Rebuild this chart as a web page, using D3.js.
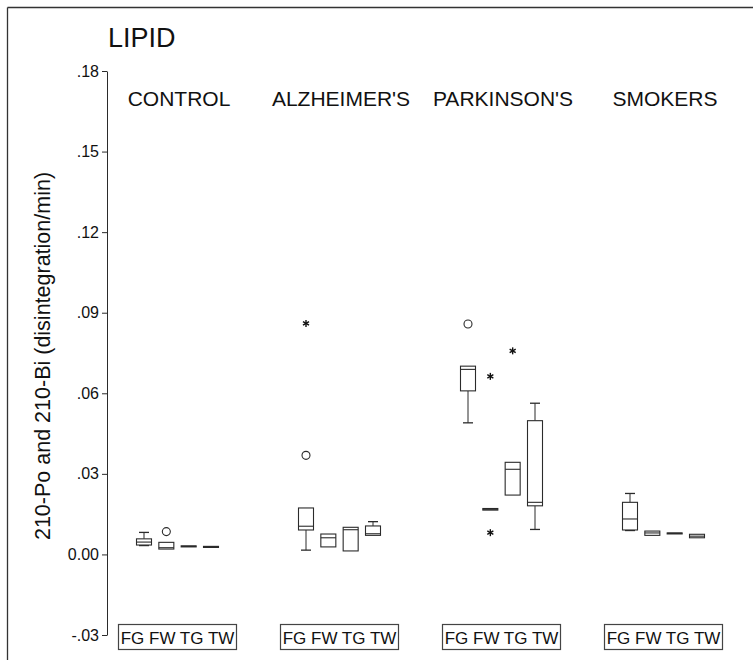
<!DOCTYPE html>
<html>
<head>
<meta charset="utf-8">
<script src="https://cdn.jsdelivr.net/npm/d3@7"></script>
<style>
  body{margin:0;background:#fff;}
  svg{display:block;font-family:"Liberation Sans",Arial,sans-serif;}
</style>
</head>
<body>
<svg id="chart" width="753" height="660"></svg>
<script>
// categories
var groups=["CONTROL","ALZHEIMER'S","PARKINSON'S","SMOKERS"];
var tissues=["FG","FW","TG","TW"];
var yTicks=[0.18,0.15,0.12,0.09,0.06,0.03,0,-0.03];
var yTickLabels=[".18",".15",".12",".09",".06",".03","0.00","-.03"];

// box stats per tissue: [low whisker, q1, median, q3, high whisker]
var controlBoxes=[
  [0.0033,0.0035,0.0046,0.0058,0.0082],
  [0.0020,0.0020,0.0025,0.0045,0.0045],
  [0.0028,0.0028,0.0030,0.0032,0.0032],
  [0.0026,0.0026,0.0028,0.0030,0.0030]
];
var alzheimerBoxes=[
  [0.0016,0.0091,0.0105,0.0173,0.0173],
  [0.0028,0.0028,0.0062,0.0076,0.0076],
  [0.0013,0.0013,0.0092,0.0101,0.0101],
  [0.0071,0.0071,0.0077,0.0106,0.0122]
];
var parkinsonBoxes=[
  [0.0490,0.0609,0.0689,0.0701,0.0701],
  [0.0165,0.0165,0.0168,0.0171,0.0171],
  [0.0221,0.0221,0.0317,0.0343,0.0343],
  [0.0093,0.0181,0.0194,0.0498,0.0563]
];
var smokerBoxes=[
  [0.0089,0.0091,0.0132,0.0194,0.0227],
  [0.0071,0.0071,0.0080,0.0087,0.0087],
  [0.0078,0.0078,0.0079,0.0080,0.0080],
  [0.0062,0.0062,0.0068,0.0075,0.0075]
];
var allBoxes=[controlBoxes,alzheimerBoxes,parkinsonBoxes,smokerBoxes];

// outliers: circle = outlier, star = extreme
var outlierGroup=["CONTROL","ALZHEIMER'S","ALZHEIMER'S","PARKINSON'S","PARKINSON'S","PARKINSON'S","PARKINSON'S"];
var outlierTissue=["FW","FG","FG","FG","FW","FW","TG"];
var outlierValue=[0.0085,0.0860,0.0369,0.0858,0.0663,0.0081,0.0758];
var outlierKind=["circle","star","circle","circle","star","star","star"];

var ink="#2b2b2b";
var svg=d3.select("#chart");

// frame (only top and left edges visible in the scan)
svg.append("line").attr("x1",7.5).attr("y1",7.5).attr("x2",753).attr("y2",7.5).attr("stroke","#333").attr("stroke-width",1.3);
svg.append("line").attr("x1",7.5).attr("y1",7.5).attr("x2",7.5).attr("y2",660).attr("stroke","#333").attr("stroke-width",1.3);

var y=d3.scaleLinear().domain([-0.03,0.18]).range([635,71]);
var xGroup=d3.scaleBand().domain(groups).range([96.5,744.5]).padding(0);
var xTissue=d3.scalePoint().domain(tissues).range([-33.5,33.5]);
var boxW=15,capW=10;

function cx(g,t){ return xGroup(g)+xGroup.bandwidth()/2+xTissue(t); }

// y axis
var yAxis=d3.axisLeft(y)
  .tickValues(yTicks)
  .tickSize(5)
  .tickSizeOuter(0)
  .tickPadding(3)
  .tickFormat(function(d,i){ return yTickLabels[i]; });
var ax=svg.append("g").attr("transform","translate(107,0)").call(yAxis);
ax.select(".domain").attr("stroke",ink).attr("stroke-width",1);
ax.selectAll(".tick line").attr("stroke",ink);
ax.selectAll(".tick text").attr("font-size",16).attr("fill","#111").attr("font-family","'Liberation Sans',Arial,sans-serif");

// axis title
svg.append("text")
  .attr("transform","translate(50,356) rotate(-90)")
  .attr("text-anchor","middle")
  .attr("font-size",21.5)
  .attr("fill","#111")
  .text("210-Po and 210-Bi (disintegration/min)");

// chart title
svg.append("text").attr("x",108).attr("y",47).attr("font-size",27).attr("fill","#111").text("LIPID");

// group labels
svg.selectAll(".glabel").data(groups).enter().append("text")
  .attr("class","glabel")
  .attr("x",function(d){ return xGroup(d)+xGroup.bandwidth()/2+1.5; })
  .attr("y",106)
  .attr("text-anchor","middle")
  .attr("font-size",21)
  .attr("fill","#111")
  .text(function(d){ return d; });

// boxes
var rows=[];
groups.forEach(function(g,gi){
  tissues.forEach(function(t,ti){
    var b=allBoxes[gi][ti];
    rows.push({g:g,t:t,lo:b[0],q1:b[1],med:b[2],q3:b[3],hi:b[4]});
  });
});

var bx=svg.append("g").selectAll("g").data(rows).enter().append("g");
bx.each(function(d){
  var gg=d3.select(this),c=cx(d.g,d.t);
  if(d.hi>d.q3){
    gg.append("line").attr("x1",c).attr("x2",c).attr("y1",y(d.q3)).attr("y2",y(d.hi)).attr("stroke",ink);
    gg.append("line").attr("x1",c-capW/2).attr("x2",c+capW/2).attr("y1",y(d.hi)).attr("y2",y(d.hi)).attr("stroke",ink).attr("stroke-width",1.3);
  }
  if(d.lo<d.q1){
    gg.append("line").attr("x1",c).attr("x2",c).attr("y1",y(d.q1)).attr("y2",y(d.lo)).attr("stroke",ink);
    gg.append("line").attr("x1",c-capW/2).attr("x2",c+capW/2).attr("y1",y(d.lo)).attr("y2",y(d.lo)).attr("stroke",ink).attr("stroke-width",1.3);
  }
  gg.append("rect")
    .attr("x",c-boxW/2).attr("width",boxW)
    .attr("y",y(d.q3)).attr("height",Math.max(1,y(d.q1)-y(d.q3)))
    .attr("fill","#fff").attr("stroke",ink).attr("stroke-width",1.1);
  gg.append("line").attr("x1",c-boxW/2).attr("x2",c+boxW/2).attr("y1",y(d.med)).attr("y2",y(d.med)).attr("stroke",ink).attr("stroke-width",1.1);
});

// outliers
outlierValue.forEach(function(v,i){
  var px=cx(outlierGroup[i],outlierTissue[i]),py=y(v);
  if(outlierKind[i]==="circle"){
    svg.append("circle").attr("cx",px).attr("cy",py).attr("r",4).attr("fill","none").attr("stroke",ink).attr("stroke-width",1.1);
  }else{
    var s=3.5,g=svg.append("g").attr("transform","translate("+px+","+py+")");
    [0,60,120].forEach(function(a){
      g.append("line").attr("x1",-s).attr("x2",s).attr("y1",0).attr("y2",0)
        .attr("transform","rotate("+(a+90)+")").attr("stroke","#111").attr("stroke-width",1.4);
    });
  }
});

// category legend boxes under each group
var lg=svg.selectAll(".leg").data(groups).enter().append("g").attr("class","leg")
  .attr("transform",function(d){ return "translate("+(xGroup(d)+xGroup.bandwidth()/2)+",0)"; });
lg.append("rect").attr("x",-59).attr("y",624.5).attr("width",118).attr("height",25)
  .attr("fill","#fff").attr("stroke","#444").attr("stroke-width",1.2);
lg.append("text").attr("x",0).attr("y",643.5).attr("text-anchor","middle").attr("font-size",17).attr("fill","#111")
  .text(tissues.join(" "));
</script>
</body>
</html>
